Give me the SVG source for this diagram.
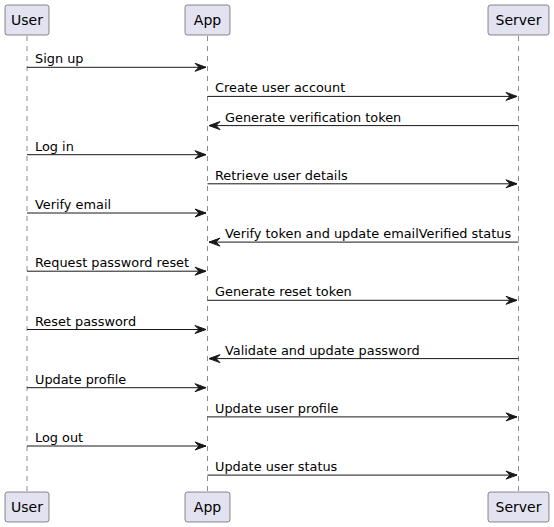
<svg xmlns="http://www.w3.org/2000/svg" width="554" height="527" viewBox="0 0 554 527">
<style>
.box{fill:#E2E2F0;stroke:#181818;stroke-width:0.5}
.pt{font-family:"DejaVu Sans",sans-serif;font-size:14px;fill:#000;text-anchor:middle}
.life{stroke:#181818;stroke-width:0.5;stroke-dasharray:5,5;fill:none}
.msg{stroke:#181818;stroke-width:1;fill:none}
.ah{fill:#181818;stroke:#181818;stroke-width:1}
.mt{font-family:"DejaVu Sans",sans-serif;font-size:12.87px;fill:#000}
</style>
<defs>
<g id="r1"><line class="msg" x1="27" y1="0" x2="206" y2="0"/><polygon class="ah" points="195,-4 206,0 195,4 199,0"/></g>
<g id="r2"><line class="msg" x1="207.5" y1="0" x2="517" y2="0"/><polygon class="ah" points="506,-4 517,0 506,4 510,0"/></g>
<g id="l2"><line class="msg" x1="209" y1="0" x2="518.5" y2="0"/><polygon class="ah" points="220,-4 209,0 220,4 216,0"/></g>
</defs>
<rect width="554" height="527" fill="#FFFFFF"/>
<g id="lifelines">
<line class="life" x1="27" y1="36" x2="27" y2="492"/>
<line class="life" x1="207.5" y1="36" x2="207.5" y2="492"/>
<line class="life" x1="518.5" y1="36" x2="518.5" y2="492"/>
</g>
<g id="User">
<rect class="box" x="5" y="5" width="44" height="30" rx="2.5"/>
<text class="pt" x="27" y="25">User</text>
<rect class="box" x="5" y="492" width="44" height="30" rx="2.5"/>
<text class="pt" x="27" y="512">User</text>
</g>
<g id="App">
<rect class="box" x="185" y="5" width="45" height="30" rx="2.5"/>
<text class="pt" x="207.5" y="25">App</text>
<rect class="box" x="185" y="492" width="45" height="30" rx="2.5"/>
<text class="pt" x="207.5" y="512">App</text>
</g>
<g id="Server">
<rect class="box" x="488" y="5" width="61" height="30" rx="2.5"/>
<text class="pt" x="518.5" y="25">Server</text>
<rect class="box" x="488" y="492" width="61" height="30" rx="2.5"/>
<text class="pt" x="518.5" y="512">Server</text>
</g>
<g id="connectors">
<g transform="translate(0,67.3)"><use href="#r1"/><text class="mt" x="35" y="-4">Sign up</text></g>
<g transform="translate(0,96.4)"><use href="#r2"/><text class="mt" x="215" y="-4">Create user account</text></g>
<g transform="translate(0,125.6)"><use href="#l2"/><text class="mt" x="225" y="-4">Generate verification token</text></g>
<g transform="translate(0,154.7)"><use href="#r1"/><text class="mt" x="35" y="-4">Log in</text></g>
<g transform="translate(0,183.8)"><use href="#r2"/><text class="mt" x="215" y="-4">Retrieve user details</text></g>
<g transform="translate(0,213)"><use href="#r1"/><text class="mt" x="35" y="-4">Verify email</text></g>
<g transform="translate(0,242.1)"><use href="#l2"/><text class="mt" x="225" y="-4">Verify token and update emailVerified status</text></g>
<g transform="translate(0,271.2)"><use href="#r1"/><text class="mt" x="35" y="-4">Request password reset</text></g>
<g transform="translate(0,300.3)"><use href="#r2"/><text class="mt" x="215" y="-4">Generate reset token</text></g>
<g transform="translate(0,329.5)"><use href="#r1"/><text class="mt" x="35" y="-4">Reset password</text></g>
<g transform="translate(0,358.6)"><use href="#l2"/><text class="mt" x="225" y="-4">Validate and update password</text></g>
<g transform="translate(0,387.7)"><use href="#r1"/><text class="mt" x="35" y="-4">Update profile</text></g>
<g transform="translate(0,416.9)"><use href="#r2"/><text class="mt" x="215" y="-4">Update user profile</text></g>
<g transform="translate(0,446)"><use href="#r1"/><text class="mt" x="35" y="-4">Log out</text></g>
<g transform="translate(0,475.1)"><use href="#r2"/><text class="mt" x="215" y="-4">Update user status</text></g>
</g>
</svg>
